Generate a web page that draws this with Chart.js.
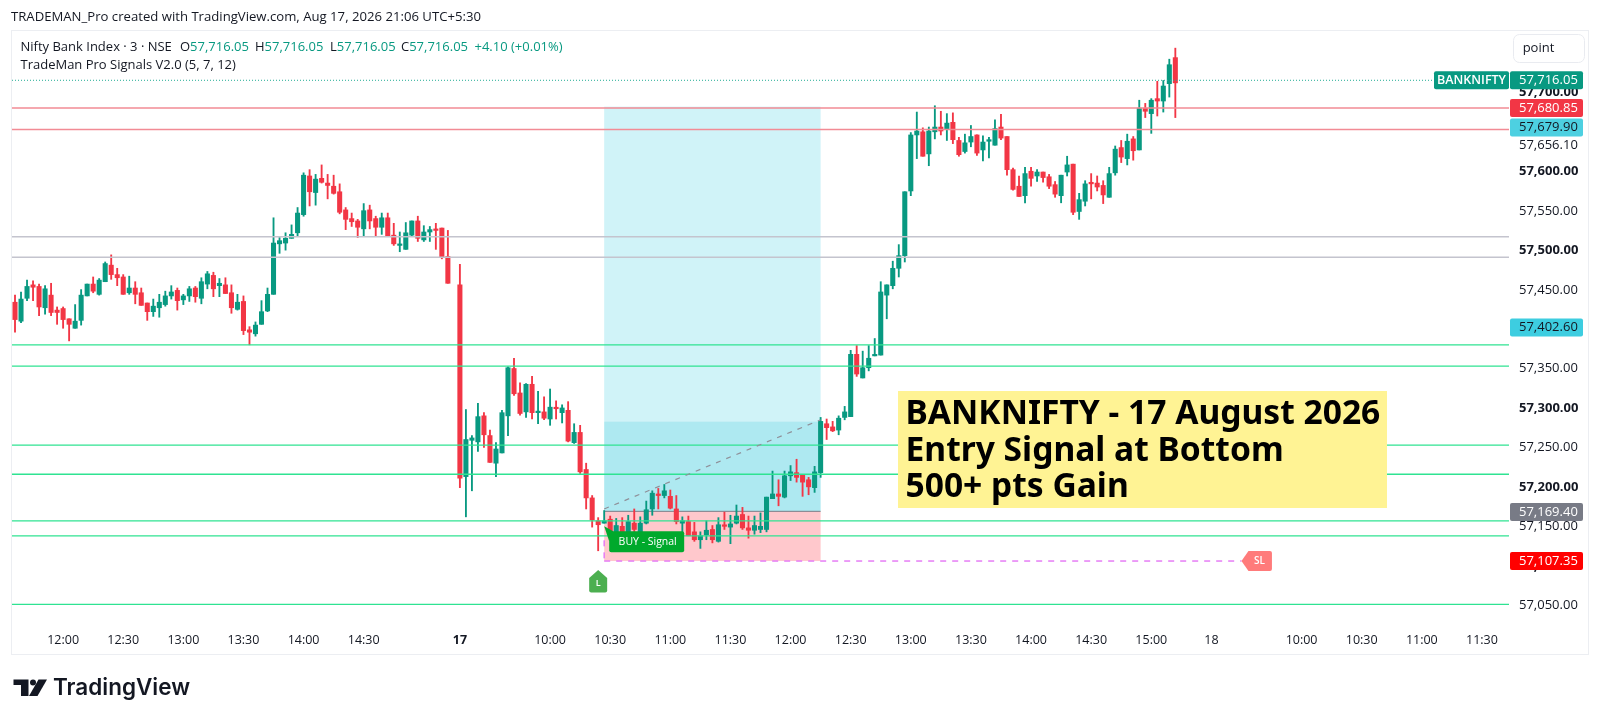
<!DOCTYPE html>
<html><head><meta charset="utf-8"><title>BANKNIFTY</title>
<style>html,body{margin:0;padding:0;background:#fff}canvas{display:block}</style>
<script src="https://cdn.jsdelivr.net/npm/chart.js@4/dist/chart.umd.min.js"></script></head>
<body><canvas id="c" width="1600" height="721"></canvas>
<script>
const opens=[57433,57409,57438,57455,57453,57426,57442,57423,57425,57412,
57400,57410,57441,57456,57443,57459,57480,57468,57465,57445,
57451,57445,57432,57421,57426,57430,57441,57448,57436,57441,
57451,57438,57456,57467,57454,57455,57445,57424,57434,57398,
57393,57405,57422,57443,57507,57508,57514,57521,57544,57593,
57572,57590,57584,57580,57573,57550,57539,57536,57526,57550,
57539,57528,57540,57518,57505,57500,57518,57536,57512,57522,
57525,57527,57491,null,
57455,57212,57258,57256,57289,57264,57229,
57242,57289,57349,57318,57294,57329,57293,57294,57285,57299,
57293,57296,57255,57268,57221,57185,57156,57153,57158,57142,
57149,57142,57153,57142,57153,57171,57190,57188,57187,57171,
57153,57155,57142,57132,57138,57145,57130,57150,57148,57153,
57164,57147,57144,57145,57145,57184,57190,57186,57213,57217,
57214,57208,57198,57217,57279,57275,57271,57287,57288,57367,
57337,57350,57365,57366,57442,57454,57476,57492,57574,57645,
57649,57621,57649,57655,57653,57661,57638,57624,57636,57645,
57626,57637,57632,57655,57643,57601,57580,57568,57599,57593,
57598,57592,57582,57568,57598,57608,57548,57561,57585,57584,
57581,57566,57597,57629,57615,57640,57626,57679,57672,57691,57688,57710,57743];
const highs=[57442,57446,57461,57460,57456,57454,57457,57427,57427,57412,
57430,57449,57456,57465,57463,57484,57493,57476,57468,57466,
57459,57451,57432,57437,57443,57447,57454,57451,57443,57453,
57453,57464,57472,57471,57463,57464,57455,57443,57441,57402,
57408,57435,57451,57540,57515,57521,57531,57553,57597,57601,
57595,57607,57595,57594,57583,57553,57546,57538,57558,57556,
57542,57546,57546,57533,57522,57534,57536,57542,57530,57529,
57533,57527,57524,null,
57481,57297,57264,57305,57293,57271,57255,
57296,57351,57362,57331,57330,57339,57320,57313,57323,57308,
57303,57307,57279,57277,57229,57188,57160,57169,57162,57159,
57160,57163,57171,57161,57181,57194,57197,57202,57195,57188,
57161,57162,57154,57142,57156,57150,57160,57167,57163,57176,
57173,57162,57162,57166,57186,57219,57208,57219,57226,57234,
57214,57211,57225,57287,57285,57282,57289,57301,57372,57378,
57371,57378,57387,57459,57455,57485,57506,57573,57648,57674,
57654,57655,57682,57675,57672,57673,57642,57646,57657,57645,
57644,57642,57664,57671,57643,57603,57593,57604,57604,57601,
57598,57595,57586,57594,57618,57608,57571,57587,57596,57593,
57587,57604,57631,57638,57646,57643,57689,57685,57691,57713,57714,57741,57755];
const lows=[57395,57407,57435,57435,57416,57418,57416,57405,57400,57384,
57400,57404,57441,57445,57442,57459,57462,57454,57443,57443,
57431,57429,57410,57415,57414,57428,57437,57423,57430,57434,
57433,57431,57450,57440,57440,57444,57419,57423,57392,57379,
57390,57405,57421,57443,57495,57499,57514,57517,57542,57555,
57556,57584,57564,57570,57545,57525,57529,57515,57517,57526,
57517,57519,57517,57505,57497,57500,57517,57510,57510,57510,
57500,57488,57457,null,
57198,57161,57194,57244,57249,57230,57212,
57242,57264,57315,57290,57287,57285,57279,57284,57277,57285,
57280,57256,57254,57216,57171,57148,57118,57153,57140,57140,
57140,57140,57142,57141,57152,57163,57171,57185,57171,57152,
57140,57137,57130,57121,57132,57128,57129,57145,57127,57152,
57145,57134,57139,57141,57142,57184,57175,57185,57207,57205,
57187,57189,57192,57211,57259,57269,57265,57284,57288,57339,
57337,57346,57365,57366,57412,57450,57465,57484,57568,57615,
57618,57606,57640,57645,57638,57634,57618,57622,57630,57619,
57612,57616,57632,57639,57594,57575,57567,57559,57580,57586,
57585,57577,57566,57559,57593,57544,57538,57555,57564,57574,
57558,57566,57594,57610,57607,57613,57626,57667,57647,57669,57674,57693,57667];
const closes=[57411,57437,57453,57452,57427,57450,57420,57420,57411,57405,
57409,57442,57456,57447,57461,57482,57468,57464,57443,57451,
57443,57429,57421,57428,57433,57441,57446,57435,57441,57450,
57440,57459,57469,57450,57457,57444,57426,57433,57397,57395,
57404,57421,57443,57508,57511,57514,57519,57546,57594,57573,
57589,57585,57581,57571,57547,57538,57535,57528,57549,57536,
57528,57540,57517,57507,57506,57521,57536,57514,57522,57525,
57524,57490,57457,null,
57210,57259,57261,57288,57265,57230,57247,
57293,57350,57317,57292,57329,57293,57295,57286,57300,57298,
57299,57257,57268,57218,57185,57157,57151,57156,57142,57150,
57142,57155,57145,57153,57170,57191,57188,57194,57172,57155,
57156,57137,57132,57137,57144,57132,57151,57149,57152,57162,
57147,57144,57150,57149,57186,57190,57187,57213,57218,57211,
57205,57199,57218,57282,57274,57270,57286,57294,57367,57342,
57350,57362,57366,57446,57455,57476,57492,57573,57645,57650,
57618,57650,57655,57650,57660,57639,57620,57635,57643,57622,
57636,57639,57653,57641,57601,57576,57567,57596,57590,57598,
57591,57580,57570,57594,57607,57547,57563,57583,57583,57579,
57569,57596,57627,57617,57637,57625,57679,57675,57689,57688,57707,57734,57711];
const barSlots=249;
const timeTickIdx=[8,18,28,38,48,58,74,89,99,109,119,129,139,149,159,169,179,189,199,214,224,234,244];
const timeTickText=["12:00","12:30","13:00","13:30","14:00","14:30","17","10:00","10:30","11:00","11:30","12:00","12:30","13:00","13:30","14:00","14:30","15:00","18","10:00","10:30","11:00","11:30"];
const boldTimeTicks=["17"];
const priceTicks=[57050,57100,57150,57200,57250,57300,57350,57400,57450,57500,57550,57600,57700];
const redLevels=[57679,57652];
const grayLevels=[57516,57490];
const greenLevels=[57379,57352,57252,57215,57156,57137,57050];
const lastPrice=57716.05;
const posStart=98,posEnd=134;
const posTarget=57680.85,posMid=57282,posEntry=57168,posStop=57105;
const trendFrom=57171,trendTo=57284;
const slEnd=204;
const tagValues=[57716.05,57680.85,57679.90,57402.60,57169.40,57107.35];
const tagTexts=["57,716.05","57,680.85","57,679.90","57,402.60","57,169.40","57,107.35"];
const plainPriceValue=57656.10, plainPriceText="57,656.10";
const titleLines=["BANKNIFTY - 17 August 2026","Entry Signal at Bottom","500+ pts Gain"];
const ohlcText=["57,716.05","57,716.05","57,716.05","57,716.05"];

const UP='#089981',DOWN='#f23645',TXT='#131722';
const UI='"Open Sans","Noto Sans",sans-serif';
const tagStyle=[[UP,'#fff',1.4],[DOWN,'#fff',1.3],['#4dd0e1','#131722',20],['#3dcde0','#131722',1.4],['#787b86','#fff',1.8],['#ff0000','#fff',1.8]];
const categories=Array.from({length:barSlots},(_,i)=>i);
const bodyColors=opens.map((o,i)=>closes[i]>=o?UP:DOWN);

const overlayUnder={id:'overlayUnder',beforeDatasetsDraw(ch){
  const c=ch.ctx,x=ch.scales.x,y=ch.scales.y;
  const xa=x.getPixelForValue(posStart),xb=x.getPixelForValue(posEnd);
  const Y=v=>y.getPixelForValue(v);
  c.save();
  c.fillStyle='#d0f3f8';c.fillRect(xa,Y(posTarget),xb-xa,Y(posMid)-Y(posTarget));
  c.fillStyle='#aee9f1';c.fillRect(xa,Y(posMid),xb-xa,Y(posEntry)-Y(posMid));
  c.fillStyle='#ffc8cc';c.fillRect(xa,Y(posEntry),xb-xa,Y(posStop)-Y(posEntry));
  c.strokeStyle='#787b86';c.lineWidth=1;c.beginPath();c.moveTo(xa,Y(posEntry));c.lineTo(xb,Y(posEntry));c.stroke();
  c.restore();
}};
function rr(c,x,y,w,h,r){c.beginPath();c.roundRect(x,y,w,h,r);}
function txt(c,s,x,y,font,color,align){c.font=font;c.fillStyle=color;c.textAlign=align||'left';c.textBaseline='middle';c.fillText(s,x,y);}
const overlayTop={id:'overlayTop',afterDatasetsDraw(ch){
  const c=ch.ctx,x=ch.scales.x,y=ch.scales.y,a=ch.chartArea;
  const Y=v=>y.getPixelForValue(v);
  const L=a.left,R=a.right;
  c.save();
  const hline=(v,col,w)=>{c.strokeStyle=col;c.lineWidth=w;c.beginPath();c.moveTo(L,Y(v));c.lineTo(R,Y(v));c.stroke();};
  redLevels.forEach(v=>hline(v,'#f28b95',1.5));
  grayLevels.forEach(v=>hline(v,'#c4c4ce',1.5));
  greenLevels.forEach(v=>hline(v,'#2fe392',1.3));
  // dotted last price
  c.setLineDash([1,2]);c.strokeStyle='#22ac95';c.lineWidth=1;c.beginPath();c.moveTo(L,Y(lastPrice)+1.4);c.lineTo(1434,Y(lastPrice)+1.4);c.stroke();c.setLineDash([]);
  const xa=x.getPixelForValue(posStart),xb=x.getPixelForValue(posEnd);
  // trend dashed
  c.setLineDash([5,6]);c.strokeStyle='#8f9099';c.lineWidth=1.2;c.beginPath();c.moveTo(xa,Y(trendFrom));c.lineTo(xb,Y(trendTo));c.stroke();
  // stop dashed
  c.setLineDash([6,6]);c.strokeStyle='#e67df5';c.lineWidth=1.5;c.beginPath();c.moveTo(xa,Y(posStop));c.lineTo(x.getPixelForValue(slEnd),Y(posStop));c.stroke();
  c.beginPath();c.moveTo(xa,Y(posEntry)+29);c.lineTo(xa,Y(posStop));c.stroke();c.setLineDash([]);
  // BUY tag
  const by=Y(posEntry);
  c.fillStyle='#00a92c';c.beginPath();c.moveTo(xa,by+15);c.lineTo(xa+9,by+20);c.lineTo(xa+5,by+30);c.closePath();c.fill();
  rr(c,xa+5,by+20,75,21,2);c.fill();
  txt(c,'BUY - Signal',xa+43.5,by+30.5,'500 10.5px '+UI,'#fff','center');
  // L tag
  const lx=x.getPixelForValue(97);
  c.fillStyle='#4caf50';c.beginPath();c.moveTo(lx,570);c.lineTo(lx+9,578);c.lineTo(lx+9,590.5);c.quadraticCurveTo(lx+9,592.5,lx+7,592.5);c.lineTo(lx-7,592.5);c.quadraticCurveTo(lx-9,592.5,lx-9,590.5);c.lineTo(lx-9,578);c.closePath();c.fill();
  txt(c,'L',lx,583,'600 9px '+UI,'#fff','center');
  // SL tag
  const sx=x.getPixelForValue(slEnd),sy=Y(posStop);
  c.fillStyle='#ff7b7b';c.beginPath();c.moveTo(sx,sy);c.lineTo(sx+7,sy-10);c.lineTo(sx+28.5,sy-10);c.quadraticCurveTo(sx+30.5,sy-10,sx+30.5,sy-8);c.lineTo(sx+30.5,sy+8);c.quadraticCurveTo(sx+30.5,sy+10,sx+28.5,sy+10);c.lineTo(sx+7,sy+10);c.closePath();c.fill();
  txt(c,'SL',sx+18,sy,'600 10px '+UI,'#fff','center');
  // Title box
  c.fillStyle='#fff394';c.fillRect(898,391,489,117);
  c.font='700 33.6px "Noto Sans",sans-serif';c.fillStyle='#000';c.textAlign='left';c.textBaseline='middle';
  titleLines.forEach((s,i)=>c.fillText(s,905.5,414.5+i*36.5));
  // price tags
  const tx=1519;
  txt(c,plainPriceText,tx,Y(plainPriceValue)+19,'13px '+UI,TXT);
  tagValues.forEach((v,i)=>{const st=tagStyle[i],yy=Y(v)+st[2];
    c.fillStyle=st[0];rr(c,1510,yy-9,73,18,2);c.fill();
    txt(c,tagTexts[i],tx,yy,'13px '+UI,st[1]);});
  c.fillStyle=UP;rr(c,1434,Y(lastPrice)+1.4-9,75,18,2);c.fill();
  txt(c,'BANKNIFTY',1471.5,Y(lastPrice)+1.4,'600 12.5px '+UI,'#fff','center');
  // point box
  c.fillStyle='#fff';rr(c,1513.5,34.5,71,28,6);c.fill();c.strokeStyle='#e9ebf0';c.lineWidth=1;c.stroke();
  txt(c,'point',1538.5,48,'13px '+UI,TXT,'center');
  // frame
  c.strokeStyle='#eceef2';c.lineWidth=1;c.strokeRect(11.5,30.5,1577,624);
  // header
  txt(c,'TRADEMAN_Pro created with TradingView.com, Aug 17, 2026 21:06 UTC+5:30',11,17,'13.15px '+UI,TXT);
  txt(c,'Nifty Bank Index · 3 · NSE',20.5,47,'13px '+UI,TXT);
  const keys=['O','H','L','C'],kx=[180,255,330,401];
  keys.forEach((k,i)=>{txt(c,k,kx[i],47,'13px '+UI,TXT);const w=c.measureText(k).width;txt(c,ohlcText[i],kx[i]+w,47,'13px '+UI,UP);});
  txt(c,'+4.10 (+0.01%)',474.5,47,'13px '+UI,UP);
  txt(c,'TradeMan Pro Signals V2.0 (5, 7, 12)',20.5,65,'13px '+UI,TXT);
  // logo
  c.fillStyle='#131722';c.beginPath();c.moveTo(13.5,679.5);c.lineTo(28.5,679.5);c.lineTo(28.5,696);c.lineTo(21,696);c.lineTo(21,685);c.lineTo(13.5,685);c.closePath();c.fill();
  c.beginPath();c.arc(33,682.5,3,0,Math.PI*2);c.fill();
  c.beginPath();c.moveTo(38.5,679.5);c.lineTo(47,679.5);c.lineTo(37.5,696);c.lineTo(29,696);c.closePath();c.fill();
  txt(c,'TradingView',53,688,'600 22.5px Inter,sans-serif',TXT);
  c.restore();
}};
new Chart(document.getElementById('c'),{
 type:'bar',
 data:{labels:categories,datasets:[
  {label:'Wick',data:highs.map((h,i)=>h==null?null:[lows[i],h]),backgroundColor:bodyColors,barThickness:1.2,order:2,grouped:false},
  {label:'Body',data:opens.map((o,i)=>o==null?null:[o,closes[i]]),backgroundColor:bodyColors,barThickness:4.4,minBarLength:1.5,order:1,grouped:false}
 ]},
 options:{responsive:false,animation:false,devicePixelRatio:1,
  layout:{padding:{left:12,right:12,top:30,bottom:67}},
  plugins:{legend:{display:false},tooltip:{enabled:false},title:{display:false}},
  scales:{
   x:{type:'category',offset:true,grid:{display:false,drawTicks:false},border:{display:false},
     afterBuildTicks(s){s.ticks=timeTickIdx.map(v=>({value:v}));},
     afterFit(s){s.height=33;},
     ticks:{autoSkip:false,maxRotation:0,minRotation:0,padding:12,color:TXT,
       callback:(v)=>timeTickText[timeTickIdx.indexOf(v)],
       font:(ctx)=>({family:UI,size:12.5,weight:(ctx.tick&&boldTimeTicks.includes(timeTickText[timeTickIdx.indexOf(ctx.tick.value)]))?'bold':'normal'})}},
   y:{position:'right',min:57029,max:57778,grid:{display:false,drawTicks:false},border:{display:false},
     afterBuildTicks(s){s.ticks=priceTicks.map(v=>({value:v}));},
     afterFit(s){s.width=79;},
     ticks:{padding:10,labelOffset:1,color:TXT,
       callback:(v)=>v.toLocaleString('en-US',{minimumFractionDigits:2,maximumFractionDigits:2}),
       font:(ctx)=>({family:UI,size:13,weight:(ctx.tick&&ctx.tick.value%100===0)?'bold':'normal'})}}
  }},
 plugins:[overlayUnder,overlayTop]
});
</script></body></html>
